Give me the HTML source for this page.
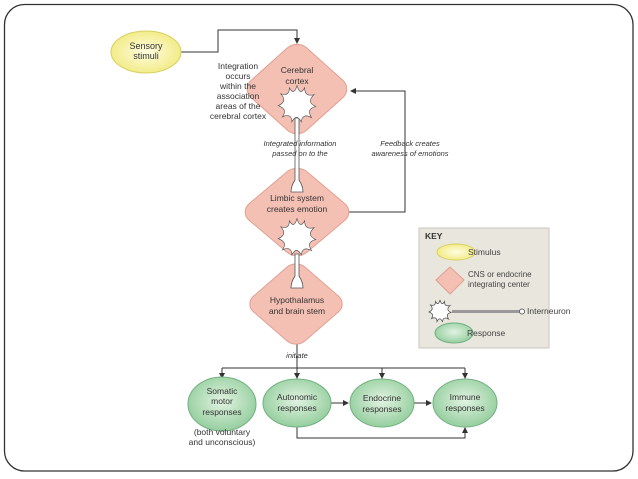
<!DOCTYPE html>
<html><head><style>
html,body{margin:0;padding:0;background:#fff;}
svg{display:block;font-family:"Liberation Sans",sans-serif;}
</style></head><body>
<svg width="638" height="479" viewBox="0 0 638 479">
<defs>
<radialGradient id="yel" cx="50%" cy="50%" r="60%"><stop offset="0" stop-color="#fffde0"/><stop offset="1" stop-color="#f0e878"/></radialGradient>
<radialGradient id="grn" cx="50%" cy="45%" r="60%"><stop offset="0" stop-color="#e2f3e2"/><stop offset="1" stop-color="#8ecb98"/></radialGradient>
<marker id="ar" markerWidth="6" markerHeight="6" refX="5" refY="3" orient="auto"><path d="M0,0 L6,3 L0,6z" fill="#333"/></marker>
<path id="star" d="M0,-22 C2,-14 5,-12 9,-19 C9,-12 12,-9 20,-11 C14,-5 14,-1 22,3 C14,5 13,9 17,16 C10,12 6,14 5,21 C1,14 -2,14 -6,21 C-6,14 -10,12 -17,15 C-13,9 -14,5 -22,2 C-14,-2 -14,-6 -19,-12 C-12,-10 -9,-12 -9,-19 C-5,-12 -2,-14 0,-22z"/>
</defs>
<rect x="4.5" y="4.5" width="628.5" height="466.5" rx="20" fill="none" stroke="#333" stroke-width="1.3"/>

<g stroke="#333" stroke-width="1" fill="none">
<path d="M181,52 H218 V30 H297 V43" marker-end="url(#ar)"/>
<path d="M348,212 H405 V91 H351" marker-end="url(#ar)"/>
<path d="M297,342 V368"/>
<path d="M222,368 H465"/>
<path d="M222,368 V378" marker-end="url(#ar)"/>
<path d="M297,368 V378" marker-end="url(#ar)"/>
<path d="M382,368 V378" marker-end="url(#ar)"/>
<path d="M465,368 V378" marker-end="url(#ar)"/>
<path d="M331,403 H348" marker-end="url(#ar)"/>
<path d="M414,403 H431" marker-end="url(#ar)"/>
<path d="M297,426 V438 H465 V428" marker-end="url(#ar)"/>
</g>

<ellipse cx="146" cy="52" rx="35" ry="21" fill="url(#yel)" stroke="#d8d060"/>
<text x="146" y="49" font-size="9" text-anchor="middle" fill="#333">Sensory</text>
<text x="146" y="59" font-size="9" text-anchor="middle" fill="#333">stimuli</text>

<g fill="#f4c0b4" stroke="#e0a090" stroke-width="1">
<g transform="translate(297,89) scale(0.98,0.88)"><rect x="-40" y="-40" width="80" height="80" rx="14" transform="rotate(45)" vector-effect="non-scaling-stroke"/></g>
<g transform="translate(297,212) scale(1.02,0.86)"><rect x="-40" y="-40" width="80" height="80" rx="14" transform="rotate(45)" vector-effect="non-scaling-stroke"/></g>
<g transform="translate(296,304) scale(0.91,0.79)"><rect x="-40" y="-40" width="80" height="80" rx="14" transform="rotate(45)" vector-effect="non-scaling-stroke"/></g>
</g>

<g fill="#fff" stroke="#555" stroke-width="0.8">
<path d="M295,118 V180 Q291,186 291,192 H303 Q303,186 299,180 V118z"/>
<path d="M295,254 V276 Q291,282 291,288 H303 Q303,282 299,276 V254z"/>
<use href="#star" transform="translate(297,104) scale(0.85)"/>
<use href="#star" transform="translate(297,237) scale(0.85)"/>
</g>

<g font-size="8.5" text-anchor="middle" fill="#333">
<text x="297" y="73">Cerebral</text><text x="297" y="84">cortex</text>
<text x="297" y="201">Limbic system</text><text x="297" y="212">creates emotion</text>
<text x="297" y="303">Hypothalamus</text><text x="297" y="314">and brain stem</text>
<text x="238" y="69">Integration</text><text x="238" y="79">occurs</text><text x="238" y="89">within the</text><text x="238" y="99">association</text><text x="238" y="109">areas of the</text><text x="238" y="119">cerebral cortex</text>
</g>
<g font-size="7.5" text-anchor="middle" fill="#333" font-style="italic">
<text x="300" y="146">Integrated information</text><text x="300" y="156">passed on to the</text>
<text x="410" y="146">Feedback creates</text><text x="410" y="156">awareness of emotions</text>
<text x="297" y="358">initiate</text>
</g>

<g stroke="#70b080" stroke-width="1">
<ellipse cx="222" cy="404" rx="34" ry="27" fill="url(#grn)"/>
<ellipse cx="297" cy="403" rx="34" ry="24" fill="url(#grn)"/>
<ellipse cx="382" cy="403" rx="32" ry="24" fill="url(#grn)"/>
<ellipse cx="465" cy="403" rx="32" ry="24" fill="url(#grn)"/>
</g>
<g font-size="8.5" text-anchor="middle" fill="#333">
<text x="222" y="394">Somatic</text><text x="222" y="404">motor</text><text x="222" y="415">responses</text>
<text x="297" y="400">Autonomic</text><text x="297" y="411">responses</text>
<text x="382" y="401">Endocrine</text><text x="382" y="412">responses</text>
<text x="465" y="400">Immune</text><text x="465" y="411">responses</text>
<text x="222" y="435">(both voluntary</text><text x="222" y="445">and unconscious)</text>
</g>

<rect x="419" y="228" width="130" height="120" fill="#e8e6dd" stroke="#c8c6bd"/>
<text x="425" y="239" font-size="8.5" font-weight="bold" fill="#333">KEY</text>
<ellipse cx="456" cy="252" rx="19" ry="8" fill="url(#yel)" stroke="#d8d060"/>
<text x="468" y="255" font-size="8.5" fill="#444">Stimulus</text>
<path d="M450,267 L464,280 L450,294 L436,280z" fill="#f4c0b4" stroke="#e0a090" stroke-linejoin="round"/>
<text x="468" y="277" font-size="8" fill="#444">CNS or endocrine</text>
<text x="468" y="287" font-size="8" fill="#444">integrating center</text>
<rect x="452" y="310" width="68" height="3" fill="#999"/>
<use href="#star" transform="translate(440,311) scale(0.5)" fill="#fff" stroke="#555" stroke-width="1.6"/>
<circle cx="522" cy="311.5" r="2.5" fill="#fff" stroke="#666"/>
<text x="527" y="314" font-size="8.5" fill="#444">Interneuron</text>
<ellipse cx="454" cy="333" rx="19" ry="10" fill="url(#grn)" stroke="#70b080"/>
<text x="467" y="336" font-size="8.5" fill="#444">Response</text>
</svg>
</body></html>
